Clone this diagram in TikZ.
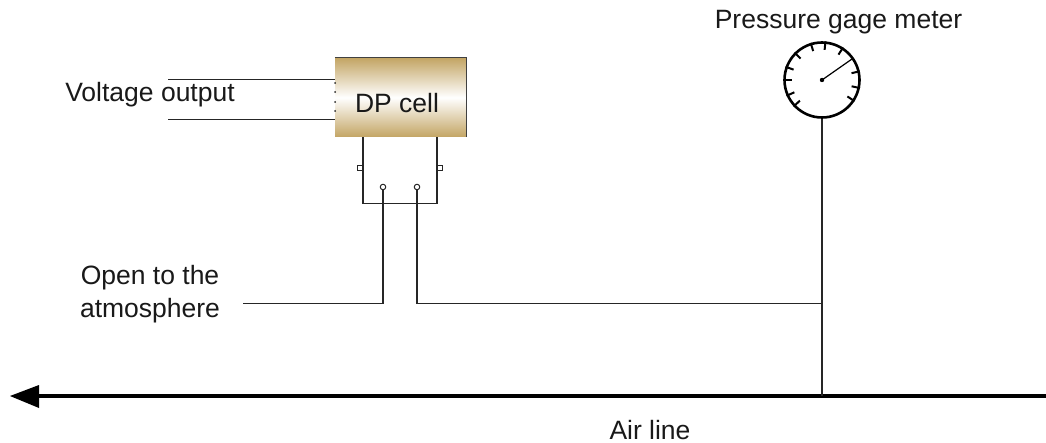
\documentclass[tikz,border=0pt]{standalone}
\usepackage{fontspec}
\setmainfont{Liberation Sans}
\usetikzlibrary{calc}
\definecolor{gold}{RGB}{195,165,100}
\tikzset{
  x=1pt,y=-1pt,
  lab/.style={inner sep=0pt,font=\fontsize{26.5}{33}\selectfont,text=black!90},
  wire/.style={draw=black!85,line width=1.15pt},
  port/.style={draw=black!85,fill=white,line width=1pt,minimum size=5pt,inner sep=0pt},
  tap/.style={circle,draw=black!85,fill=white,line width=1pt,minimum size=5.5pt,inner sep=0pt},
  air/.style={draw=black,line width=3.6pt},
}
\begin{document}
\begin{tikzpicture}
\useasboundingbox (0,0) rectangle (1046,443);
% labels
\node[lab] (gaugelabel) at (838.5,22) {Pressure gage meter};
\node[lab] (voltlabel) at (150,95) {Voltage output};
\node[lab,align=center] (openlabel) at (150,294) {Open to the\\atmosphere};
\node[lab] (airlabel) at (650,430) {Air line};
% DP cell
\node[inner sep=0pt,minimum width=131pt,minimum height=79pt,top color=gold,bottom color=gold,middle color=white] (cell) at (400.5,97.5) {};
\draw[black!75,line width=1.2pt] (cell.north west) -- (cell.north east) -- (cell.south east);
\node[lab] (celltext) at (397,103) {DP cell};
% lower housing
\coordinate (hl) at (363,137);
\coordinate (hr) at (437,137);
\coordinate (hbl) at (363,203.5);
\coordinate (hbr) at (437,203.5);
\draw[wire] (hl) -- (hbl) -- (hbr) -- (hr);
\node[port] (pl) at (360,168) {};
\node[port] (pr) at (440,168) {};
\node[tap] (ta) at (383,187) {};
\node[tap] (tb) at (417,187) {};
% voltage wires
\coordinate (v1a) at (168,79.5);
\coordinate (v1b) at (335,79.5);
\coordinate (v2a) at (168,119.5);
\coordinate (v2b) at (335,119.5);
\draw[wire] (v1a) -- (v1b);
\draw[wire] (v2a) -- (v2b);
\foreach \yy in {83,92,102,111}
  \fill[black!85] (335,\yy) circle[radius=1pt];
% gauge
\node[circle,draw=black,line width=2.6pt,fill=white,minimum size=75pt,inner sep=0pt] (gauge) at (822,80) {};
\foreach \a in {85,107.5,135,160,180,204,223,57,13,-12,-33}
  \draw[black,line width=2pt] (gauge.\a) -- ($(gauge.center)!0.78!(gauge.\a)$);
\coordinate (needle) at (852,59);
\draw[black,line width=1.2pt] (gauge.center) -- (needle);
\fill[black] (gauge.center) circle[radius=2.2pt];
% air line
\coordinate (airR) at (1046,396);
\coordinate (airB) at (38,396);
\coordinate (airT) at (10,396);
\coordinate (airU) at (39,385);
\coordinate (airD) at (39,408);
\draw[air] (airR) -- (airB);
\fill[black] (airT) -- (airU) -- (airD) -- cycle;
% pipes
\coordinate (open) at (243,303.5);
\coordinate (tee) at (822,303.5);
\coordinate (airtee) at (822,396);
\draw[wire] (open) -| (ta.south);
\draw[wire] (tb.south) |- (tee);
\draw[wire] (gauge.south) -- (airtee);
\end{tikzpicture}
\end{document}
